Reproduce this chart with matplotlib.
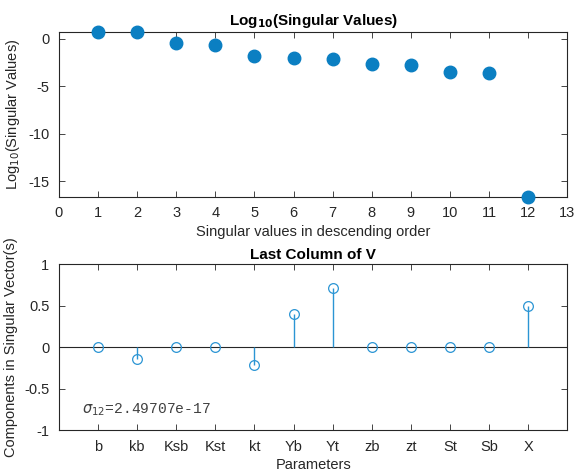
import numpy as np
import matplotlib
matplotlib.use('Agg')
import matplotlib.pyplot as plt

plt.rcParams['font.family'] = ['Liberation Sans', 'DejaVu Sans']
plt.rcParams['mathtext.fontset'] = 'dejavusans'
plt.rcParams['axes.unicode_minus'] = False

# ---- data ----
sv_index = list(range(1, 13))
log_sv = [0.72, 0.70, -0.46, -0.63, -1.85, -2.06, -2.17, -2.65, -2.79, -3.52, -3.59, -16.6026]

params = ['b', 'kb', 'Ksb', 'Kst', 'kt', 'Yb', 'Yt', 'zb', 'zt', 'St', 'Sb', 'X']
last_v = [0.0, -0.145, 0.0, 0.0, -0.22, 0.40, 0.715, 0.0, 0.0, 0.0, 0.0, 0.50]
sigma_txt = r'$\sigma_{12}$=2.49707e-17'

BLUE = '#0b7fc2'
STEM = '#2b95d4'
AX = '#262626'

fig = plt.figure(figsize=(5.75, 4.74), dpi=100)
ax1 = fig.add_axes([0.1026, 0.585, 0.884, 0.348])
ax2 = fig.add_axes([0.1026, 0.0928, 0.884, 0.3496])


def style(ax):
    for s in ax.spines.values():
        s.set_color(AX)
        s.set_linewidth(0.8)
    ax.tick_params(direction='in', top=True, right=True, length=4, width=0.6,
                   colors=AX, labelsize=10.5, pad=7)
    for lab in ax.get_xticklabels() + ax.get_yticklabels():
        lab.set_color(AX)


# ---- top: log10 singular values ----
ax1.plot(sv_index, log_sv, 'o', color=BLUE, ms=9, mec=BLUE, clip_on=False, zorder=3)
ax1.set_xlim(0, 13)
ax1.set_ylim(min(log_sv), max(log_sv))
ax1.set_xticks(range(0, 14))
ax1.set_yticks([-15, -10, -5, 0])
ax1.set_title(r'Log$_{\mathbf{10}}$(Singular Values)', fontsize=11, fontweight='bold', pad=5)
ax1.set_ylabel(r'Log$_{10}$(Singular Values)', fontsize=10.5, color=AX, labelpad=4)
ax1.set_xlabel('Singular values in descending order', fontsize=10.5, color=AX, labelpad=3)
style(ax1)

# ---- bottom: last column of V ----
x = np.arange(1, len(params) + 1)
ax2.axhline(0, color=AX, lw=0.8, zorder=1)
ax2.vlines(x, 0, last_v, color=STEM, lw=1.0, zorder=2)
ax2.plot(x, last_v, 'o', mfc='none', mec=STEM, ms=7, mew=0.9, zorder=3)
ax2.set_xlim(0, 13)
ax2.set_ylim(-1, 1)
ax2.set_xticks(x)
ax2.set_xticklabels(params)
ax2.set_yticks([-1, -0.5, 0, 0.5, 1])
ax2.set_yticklabels(['-1', '-0.5', '0', '0.5', '1'])
ax2.set_title('Last Column of V', fontsize=11, fontweight='bold', pad=4)
ax2.set_ylabel('Components in Singular Vector(s)', fontsize=10.5, color=AX, labelpad=4)
ax2.set_xlabel('Parameters', fontsize=10.5, color=AX, labelpad=3)
ax2.text(0.6, -0.75, sigma_txt, fontsize=10.5, color='#404040',
         family=['Liberation Mono', 'DejaVu Sans Mono'], va='center')
style(ax2)

fig.savefig('out.png', dpi=100, facecolor='white')
